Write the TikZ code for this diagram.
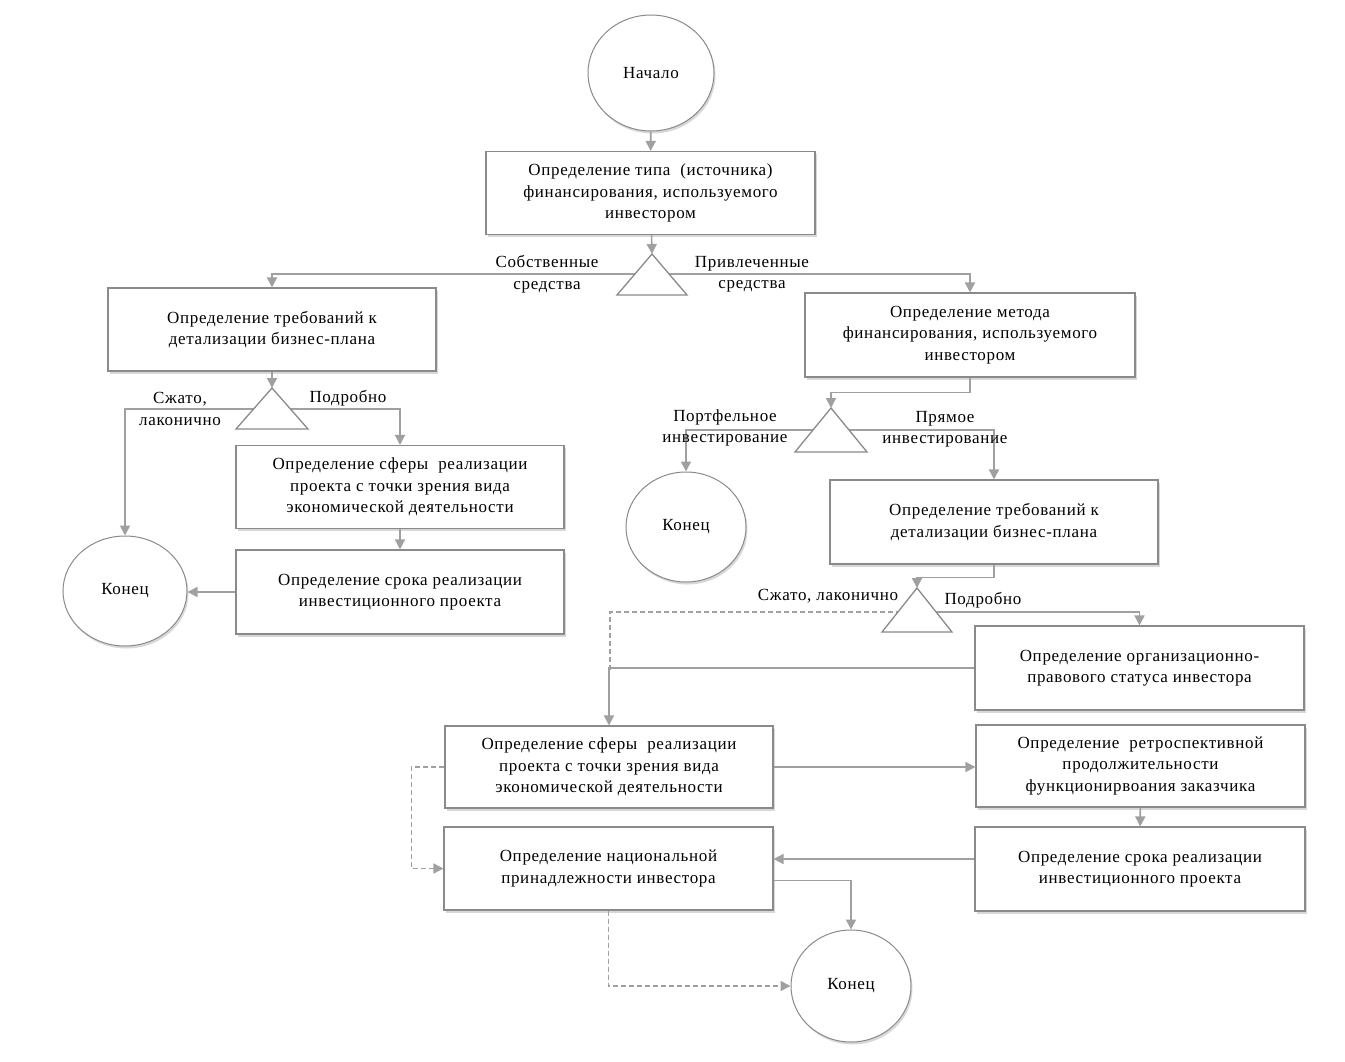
\documentclass[tikz,border=0pt]{standalone}
\usepackage{fontspec}
\setmainfont{Liberation Serif}[LetterSpace=4]
\usetikzlibrary{arrows.meta,shapes.geometric,shadows}
\definecolor{linec}{HTML}{A0A0A0}
\definecolor{boxc}{HTML}{8A8A8A}
\newcommand{\fs}{\fontsize{17}{21.5}\selectfont}
\tikzset{
  box/.style={draw=boxc, line width=1.1pt, fill=white, align=center, font=\fs, inner sep=2pt,
    drop shadow={shadow xshift=1.5pt, shadow yshift=-2.5pt, opacity=0.3}},
  term/.style={ellipse, draw=boxc, line width=1pt, fill=white, align=center, font=\fs, inner sep=0pt,
    drop shadow={shadow xshift=1.5pt, shadow yshift=-2.5pt, opacity=0.3}},
  ln/.style={draw=linec, line width=1.6pt},
  arr/.style={ln, -{Triangle[length=10pt,width=10pt]}},
  darr/.style={arr, dash pattern=on 5pt off 3pt},
  dln/.style={ln, dash pattern=on 5pt off 3pt},
  tri/.style={draw=boxc, line width=1.3pt, fill=white, line join=miter},
  lbl/.style={font=\fs, align=center, inner sep=0pt},
}
\begin{document}
\begin{tikzpicture}[x=1pt,y=-1pt]
\path[fill=white] (0,0) rectangle (1345,1061);
\useasboundingbox (0,0) rectangle (1345,1061);

% terminals
\node[term, minimum width=126, minimum height=116] (start) at (651,73) {Начало};
\node[term, minimum width=124, minimum height=110] (endL) at (125,591) {Конец};
\node[term, minimum width=120, minimum height=110] (endM) at (686,527) {Конец};
\node[term, minimum width=120, minimum height=112] (endB) at (851,986) {Конец};

% boxes
\node[box, minimum width=329, minimum height=83] (b1) at (650.5,193) {Определение типа \ (источника)\\финансирования, используемого\\инвестором};
\node[box, minimum width=328, minimum height=83] (L1) at (272,329.5) {Определение требований к\\детализации бизнес-плана};
\node[box, minimum width=328, minimum height=83] (L2) at (400,487) {Определение сферы \ реализации\\проекта с точки зрения вида\\экономической деятельности};
\node[box, minimum width=328, minimum height=84] (L3) at (400,592) {Определение срока реализации\\инвестиционного проекта};
\node[box, minimum width=330, minimum height=84] (R1) at (970,335) {Определение метода\\финансирования, используемого\\инвестором};
\node[box, minimum width=328, minimum height=84] (R2) at (994,522) {Определение требований к\\детализации бизнес-плана};
\node[box, minimum width=329, minimum height=84] (R3) at (1139.5,668) {Определение организационно-\\правового статуса инвестора};
\node[box, minimum width=328, minimum height=82] (M1) at (609,767) {Определение сферы \ реализации\\проекта с точки зрения вида\\экономической деятельности};
\node[box, minimum width=329, minimum height=82] (R4) at (1140.5,766) {Определение \ ретроспективной\\продолжительности\\функционирвоания заказчика};
\node[box, minimum width=330, minimum height=84] (R5) at (1140,869) {Определение срока реализации\\инвестиционного проекта};
\node[box, minimum width=329, minimum height=83] (M2) at (608.5,868.5) {Определение национальной\\принадлежности инвестора};

% decision points (apex and branch line)
\coordinate (t1a) at (652,254);  \coordinate (t1) at (652,274);
\coordinate (tLa) at (272,388);  \coordinate (tL) at (272,409);
\coordinate (tRa) at (831,408);  \coordinate (tR) at (831,430);
\coordinate (t3a) at (917,588);  \coordinate (t3) at (917,612);
\coordinate (c1) at (610,670);

% connectors
\draw[arr] (start) -- (b1);
\draw[arr] (b1) -- (t1a);
\draw[arr] (t1) -| (L1);
\draw[arr] (t1) -| (R1);
\draw[arr] (L1) -- (tLa);
\draw[arr] (tL) -| (endL);
\draw[arr] (tL) -| (L2);
\draw[arr] (L2) -- (L3);
\draw[arr] (L3.west) -- (L3.west -| endL.east);
\draw[arr] (R1.south) -- ++(0,15) -| (tRa);
\draw[arr] (tR) -| (endM);
\draw[arr] (tR) -| (R2);
\draw[arr] (R2.south) -- ++(0,13) -| (t3a);
\draw[arr] (t3) -| (R3);
\draw[dln] (t3) -| (c1);
\draw[arr] (R3) -| (M1);
\draw[arr] (M1.east) -- (M1.east -| R4.west);
\draw[arr] (R4) -- (R5);
\draw[arr] ([yshift=10pt]R5.west) -- ([yshift=10pt]R5.west -| M2.east);
\draw[darr] (M1.west) -- ++(-33,0) |- (M2.west);
\draw[arr] ([yshift=-12pt]M2.east) -| (endB);
\draw[darr] (M2.south) |- (endB);

% triangles
\draw[tri] (t1a) -- ++(35,41) -- ++(-70,0) -- cycle;
\draw[tri] (tLa) -- ++(36,41) -- ++(-72,0) -- cycle;
\draw[tri] (tRa) -- ++(36,44) -- ++(-72,0) -- cycle;
\draw[tri] (t3a) -- ++(35,44) -- ++(-70,0) -- cycle;

% labels
\node[lbl] (lab1) at (547,274) {Собственные\\средства};
\node[lbl] (lab2) at (752,274) {Привлеченные\\средства};
\node[lbl] (lab3) at (180,409) {Сжато,\\лаконично};
\node[lbl] (lab4) at (348,398) {Подробно};
\node[lbl] (lab5) at (725,428) {Портфельное\\инвестирование};
\node[lbl] (lab6) at (945,429) {Прямое\\инвестирование};
\node[lbl] (lab7) at (828,596) {Сжато, лаконично};
\node[lbl] (lab8) at (983,600) {Подробно};
\end{tikzpicture}
\end{document}
